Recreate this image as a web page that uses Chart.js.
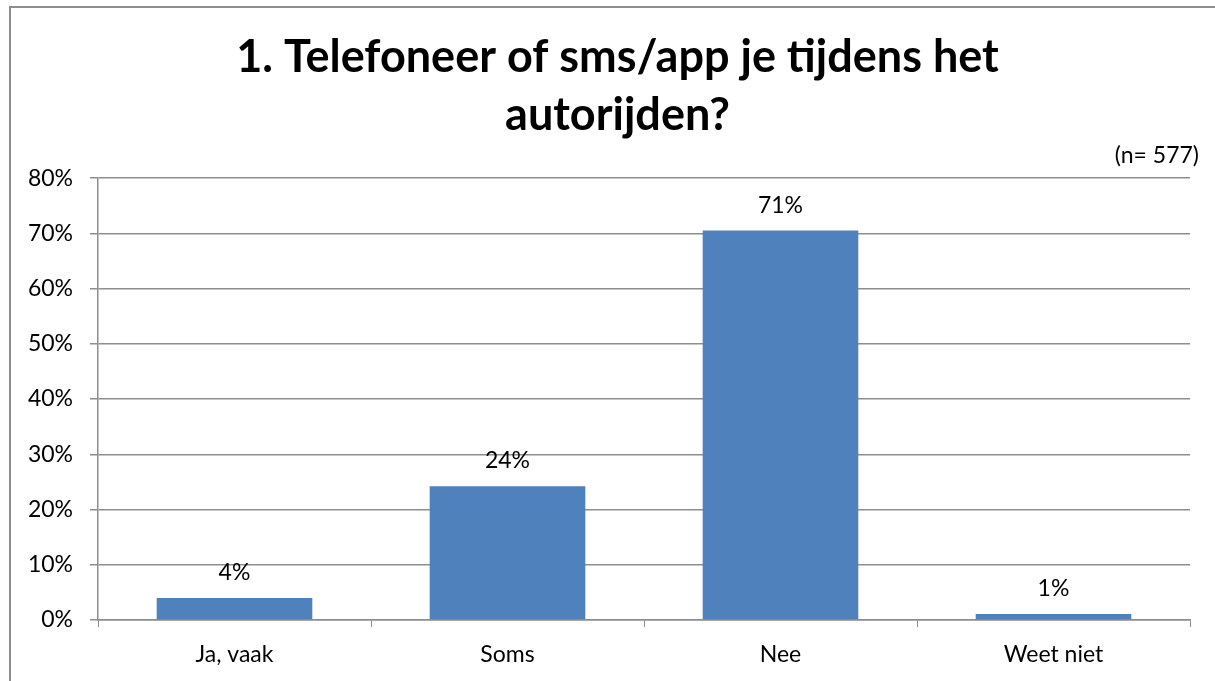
<!DOCTYPE html>
<html>
<head>
<meta charset="utf-8">
<script src="https://cdn.jsdelivr.net/npm/chart.js@4/dist/chart.umd.min.js"></script>
<style>
  html, body { margin: 0; padding: 0; background: #fff; overflow: hidden; }
  #frame { position: absolute; left: 9px; top: 6px; width: 1300px; height: 800px; border: 2px solid #8e8e8e; }
  #wrap { position: absolute; left: 0; top: 0; width: 1215px; height: 681px; }
</style>
</head>
<body>
<div id="frame"></div>
<div id="wrap"><canvas id="chart"></canvas></div>
<script>
const categories = ['Ja, vaak', 'Soms', 'Nee', 'Weet niet'];
const percentages = [4.0, 24.2, 70.5, 1.1];
const titleLines = ['1. Telefoneer of sms/app je tijdens het', 'autorijden?'];
const sampleNote = '(n= 577)';
const yTicks = [0, 10, 20, 30, 40, 50, 60, 70, 80];

const font = "Lato, 'Open Sans', sans-serif";

// value labels above the bars + the (n=...) note
const labelPlugin = {
    id: 'labels',
    afterDatasetsDraw(chart) {
        const ctx = chart.ctx;
        const meta = chart.getDatasetMeta(0);
        ctx.save();
        ctx.fillStyle = '#000';
        ctx.font = '23px ' + font;
        ctx.textAlign = 'center';
        ctx.textBaseline = 'alphabetic';
        meta.data.forEach((bar, i) => {
            ctx.fillText(Math.round(percentages[i]) + '%', bar.x, bar.y - 18);
        });
        ctx.textAlign = 'right';
        ctx.fillText(sampleNote, 1199, 163);
        ctx.restore();
    }
};

new Chart(document.getElementById('chart'), {
    type: 'bar',
    data: {
        labels: categories,
        datasets: [{
            data: percentages,
            backgroundColor: '#4f81bd',
            borderWidth: 0,
            categoryPercentage: 1,
            barPercentage: 0.57
        }]
    },
    options: {
        responsive: true,
        maintainAspectRatio: false,
        animation: false,
        events: [],
        layout: { padding: { left: 20, right: 0, top: 28, bottom: 14 } },
        plugins: {
            legend: { display: false },
            tooltip: { enabled: false },
            title: {
                display: true,
                text: titleLines,
                color: '#000',
                font: { family: font, size: 45, weight: 'bold', lineHeight: 1.29 },
                padding: { top: 0, bottom: 34 }
            }
        },
        scales: {
            x: {
                afterFit(scale) { scale.height = 47; },
                grid: {
                    offset: true,
                    drawOnChartArea: false,
                    color: '#8e8e8e',
                    tickLength: 7
                },
                border: { color: '#8e8e8e', width: 1.5 },
                ticks: { color: '#000', font: { family: font, size: 23 }, padding: 14 }
            },
            y: {
                min: 0,
                max: 80,
                afterFit(scale) { scale.width = 78; },
                afterBuildTicks(scale) { scale.ticks = yTicks.map(v => ({ value: v })); },
                grid: { color: '#8e8e8e', lineWidth: 1.5, tickLength: 8 },
                border: { color: '#8e8e8e', width: 1.5 },
                ticks: {
                    color: '#000',
                    font: { family: font, size: 23 },
                    padding: 17,
                    callback: v => v + '%'
                }
            },
            y2: {
                position: 'right',
                display: true,
                afterFit(scale) { scale.width = 25; },
                grid: { display: false },
                border: { display: false },
                ticks: { display: false }
            }
        }
    },
    plugins: [labelPlugin]
});
</script>
</body>
</html>
